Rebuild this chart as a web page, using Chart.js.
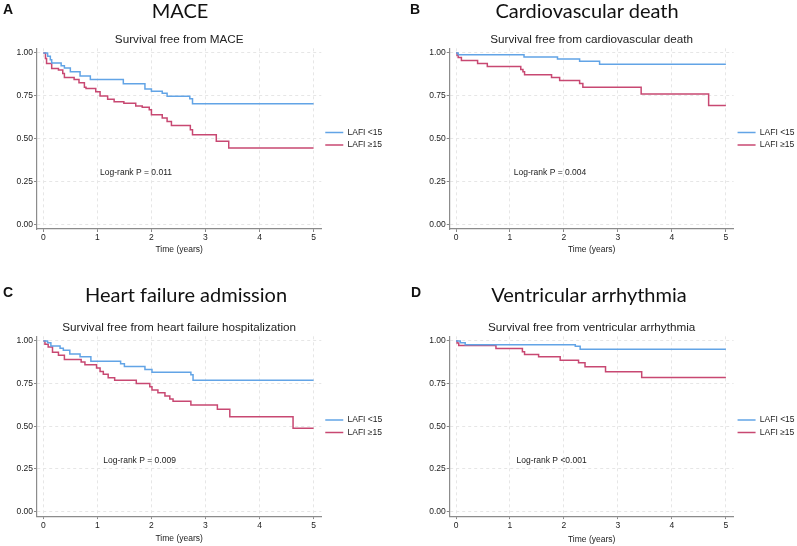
<!DOCTYPE html>
<html>
<head>
<meta charset="utf-8">
<script src="https://cdn.jsdelivr.net/npm/chart.js@4.4.1/dist/chart.umd.min.js"></script>
<style>
  html, body { margin: 0; padding: 0; background: #fff; }
  #wrap { position: relative; width: 797px; height: 546px; overflow: hidden; background: #fff; }
  canvas { position: absolute; }
  .letter { position: absolute; font: bold 14px "Liberation Sans", Arial, sans-serif; color: #111; line-height: 14px; }
  .big { position: absolute; font: 20px Lato, "Open Sans", sans-serif; color: #111; line-height: 20px; white-space: nowrap; transform: translateX(-50%); }
</style>
</head>
<body>
<div id="wrap">
  <canvas id="cA" width="397" height="273" style="left:0;top:0;"></canvas>
  <canvas id="cB" width="410" height="273" style="left:397px;top:0;"></canvas>
  <canvas id="cC" width="397" height="273" style="left:0;top:273px;"></canvas>
  <canvas id="cD" width="410" height="273" style="left:397px;top:273px;"></canvas>
  <div class="letter" style="left:3px;top:2px;">A</div>
  <div class="letter" style="left:410px;top:2px;">B</div>
  <div class="letter" style="left:3px;top:285px;">C</div>
  <div class="letter" style="left:411px;top:285px;">D</div>
  <div class="big" style="left:180px;top:0px;">MACE</div>
  <div class="big" style="left:587px;top:0px;">Cardiovascular death</div>
  <div class="big" style="left:186px;top:284px;">Heart failure admission</div>
  <div class="big" style="left:589px;top:284px;">Ventricular arrhythmia</div>
</div>
<script>
// ---- Data ----
const seriesLabels = ['LAFI <15', 'LAFI \u226515'];
const xTickValues = [0, 1, 2, 3, 4, 5];
const yTickValues = [0, 0.25, 0.5, 0.75, 1];

// Panel A: MACE
const maceLowTime  = [0, 0.08, 0.13, 0.155, 0.33, 0.39, 0.5, 0.68, 0.87, 1.48, 1.88, 2.0, 2.2, 2.29, 2.71, 2.76, 5];
const maceLowSurv  = [1, 0.981, 0.961, 0.942, 0.926, 0.912, 0.89, 0.865, 0.845, 0.82, 0.79, 0.776, 0.765, 0.747, 0.733, 0.703, 0.703];
const maceHighTime = [0, 0.04, 0.06, 0.155, 0.28, 0.36, 0.39, 0.57, 0.66, 0.76, 0.79, 0.97, 1.05, 1.19, 1.31, 1.49, 1.71, 1.83, 1.96, 2.0, 2.2, 2.29, 2.37, 2.72, 2.76, 3.2, 3.43, 5];
const maceHighSurv = [1, 0.967, 0.938, 0.909, 0.9, 0.88, 0.857, 0.845, 0.826, 0.8, 0.793, 0.774, 0.749, 0.73, 0.716, 0.707, 0.69, 0.683, 0.668, 0.639, 0.62, 0.6, 0.577, 0.552, 0.523, 0.485, 0.446, 0.446];

// Panel B: Cardiovascular death
const cvLowTime  = [0, 0.04, 1.26, 1.88, 2.29, 2.66, 5];
const cvLowSurv  = [1, 0.99, 0.977, 0.965, 0.952, 0.934, 0.934];
const cvHighTime = [0, 0.02, 0.04, 0.1, 0.4, 0.58, 1.2, 1.24, 1.27, 1.77, 1.92, 2.29, 2.35, 3.43, 4.68, 5];
const cvHighSurv = [1, 0.986, 0.973, 0.956, 0.938, 0.921, 0.903, 0.89, 0.873, 0.857, 0.84, 0.822, 0.8, 0.76, 0.693, 0.693];

// Panel C: Heart failure admission
const hfLowTime  = [0, 0.08, 0.14, 0.31, 0.37, 0.49, 0.68, 0.88, 1.43, 1.5, 1.88, 2.01, 2.73, 2.77, 5];
const hfLowSurv  = [1, 0.99, 0.971, 0.957, 0.946, 0.924, 0.907, 0.881, 0.866, 0.85, 0.833, 0.817, 0.802, 0.77, 0.77];
const hfHighTime = [0, 0.03, 0.09, 0.17, 0.28, 0.39, 0.7, 0.77, 0.985, 1.05, 1.11, 1.2, 1.32, 1.72, 1.97, 2.01, 2.12, 2.25, 2.34, 2.4, 2.73, 3.22, 3.45, 4.62, 5];
const hfHighSurv = [1, 0.98, 0.965, 0.934, 0.916, 0.891, 0.877, 0.86, 0.842, 0.821, 0.804, 0.784, 0.77, 0.751, 0.732, 0.712, 0.696, 0.677, 0.66, 0.646, 0.624, 0.599, 0.556, 0.488, 0.488];

// Panel D: Ventricular arrhythmia
const vaLowTime  = [0, 0.08, 0.17, 2.21, 2.3, 5];
const vaLowSurv  = [1, 0.99, 0.978, 0.969, 0.951, 0.951];
const vaHighTime = [0, 0.02, 0.05, 0.74, 1.23, 1.27, 1.53, 1.93, 2.27, 2.39, 2.77, 3.44, 5];
const vaHighSurv = [1, 0.988, 0.973, 0.955, 0.936, 0.92, 0.907, 0.887, 0.872, 0.848, 0.819, 0.786, 0.786];

const subtitles = [
  'Survival free from MACE',
  'Survival free from cardiovascular death',
  'Survival free from heart failure hospitalization',
  'Survival free from ventricular arrhythmia'
];
const logRankTexts = ['Log-rank P = 0.011', 'Log-rank P = 0.004', 'Log-rank P = 0.009', 'Log-rank P <0.001'];

// ---- Styling ----
const BLUE = 'rgb(98,164,230)';
const RED = 'rgb(200,72,114)';
const FONT = '"Liberation Sans", Arial, Helvetica, sans-serif';
const TXT = '#222';

function pts(t, s) { return t.map((v, i) => ({ x: v, y: s[i] })); }

const logRankPlugin = {
  id: 'logrank',
  afterDatasetsDraw(chart, args, opts) {
    const { ctx, scales } = chart;
    ctx.save();
    ctx.font = '8.5px ' + FONT;
    ctx.fillStyle = TXT;
    ctx.textAlign = 'left';
    ctx.textBaseline = 'middle';
    ctx.fillText(opts.text, scales.x.getPixelForValue(opts.x), scales.y.getPixelForValue(opts.y));
    ctx.restore();
  }
};

function makeChart(id, p) {
  const small = { family: FONT, size: 8.5 };
  return new Chart(document.getElementById(id), {
    type: 'line',
    data: {
      datasets: [
        { label: seriesLabels[0], data: pts(p.lowT, p.lowS), borderColor: BLUE, backgroundColor: BLUE, borderWidth: 1.5, pointRadius: 0, stepped: true, fill: false },
        { label: seriesLabels[1], data: pts(p.highT, p.highS), borderColor: RED, backgroundColor: RED, borderWidth: 1.5, pointRadius: 0, stepped: true, fill: false }
      ]
    },
    plugins: [logRankPlugin],
    options: {
      responsive: false,
      animation: false,
      devicePixelRatio: 1,
      layout: { padding: p.pad },
      plugins: {
        title: { display: true, text: p.sub, fullSize: false, color: TXT, font: { family: FONT, size: 11.7, weight: 'normal' }, padding: { top: 0, bottom: 2 } },
        legend: {
          position: 'right', fullSize: false,
          labels: { usePointStyle: true, pointStyle: 'line', pointStyleWidth: 18, boxHeight: 4, color: TXT,
                    font: { family: FONT, size: 8.5, lineHeight: 1 }, padding: 4 }
        },
        tooltip: { enabled: false },
        logrank: { text: p.lr, x: p.lrx, y: 0.30 }
      },
      scales: {
        x: {
          type: 'linear', min: -0.116, max: 5.142,
          afterBuildTicks: (s) => { s.ticks = xTickValues.map(v => ({ value: v })); },
          ticks: { color: TXT, font: small, padding: 1, maxRotation: 0, autoSkip: false },
          grid: { color: '#e6e6e6', lineWidth: 1, tickColor: '#888', tickLength: 3, tickWidth: 1, tickBorderDash: [] },
          border: { display: true, color: '#8c8c8c', width: 1.2, dash: [3, 3] },
          title: { display: true, text: 'Time (years)', color: TXT, font: small, padding: { top: p.tpad, bottom: 0 } }
        },
        y: {
          type: 'linear', min: -0.027, max: 1.027,
          afterBuildTicks: (s) => { s.ticks = yTickValues.map(v => ({ value: v })); },
          ticks: { color: TXT, font: small, padding: 1, callback: (v) => Number(v).toFixed(2) },
          grid: { color: '#e6e6e6', lineWidth: 1, tickColor: '#888', tickLength: 3, tickWidth: 1, tickBorderDash: [] },
          border: { display: true, color: '#8c8c8c', width: 1.2, dash: [3, 3] }
        }
      }
    }
  });
}

makeChart('cA', { lowT: maceLowTime, lowS: maceLowSurv, highT: maceHighTime, highS: maceHighSurv,
  sub: subtitles[0], lr: logRankTexts[0], lrx: 1.05, tpad: 0,
  pad: { top: 32.3, bottom: 18.6, left: 15.5, right: 4.75 } });
makeChart('cB', { lowT: cvLowTime, lowS: cvLowSurv, highT: cvHighTime, highS: cvHighSurv,
  sub: subtitles[1], lr: logRankTexts[1], lrx: 1.07, tpad: 0.7,
  pad: { top: 32.3, bottom: 17.9, left: 31.2, right: 2.45 } });
makeChart('cC', { lowT: hfLowTime, lowS: hfLowSurv, highT: hfHighTime, highS: hfHighSurv,
  sub: subtitles[2], lr: logRankTexts[2], lrx: 1.11, tpad: 2.7,
  pad: { top: 47.3, bottom: 1.8, left: 15.5, right: 4.75 } });
makeChart('cD', { lowT: vaLowTime, lowS: vaLowSurv, highT: vaHighTime, highS: vaHighSurv,
  sub: subtitles[3], lr: logRankTexts[3], lrx: 1.12, tpad: 3.3,
  pad: { top: 47.3, bottom: 1.2, left: 31.2, right: 2.45 } });
</script>
</body>
</html>
